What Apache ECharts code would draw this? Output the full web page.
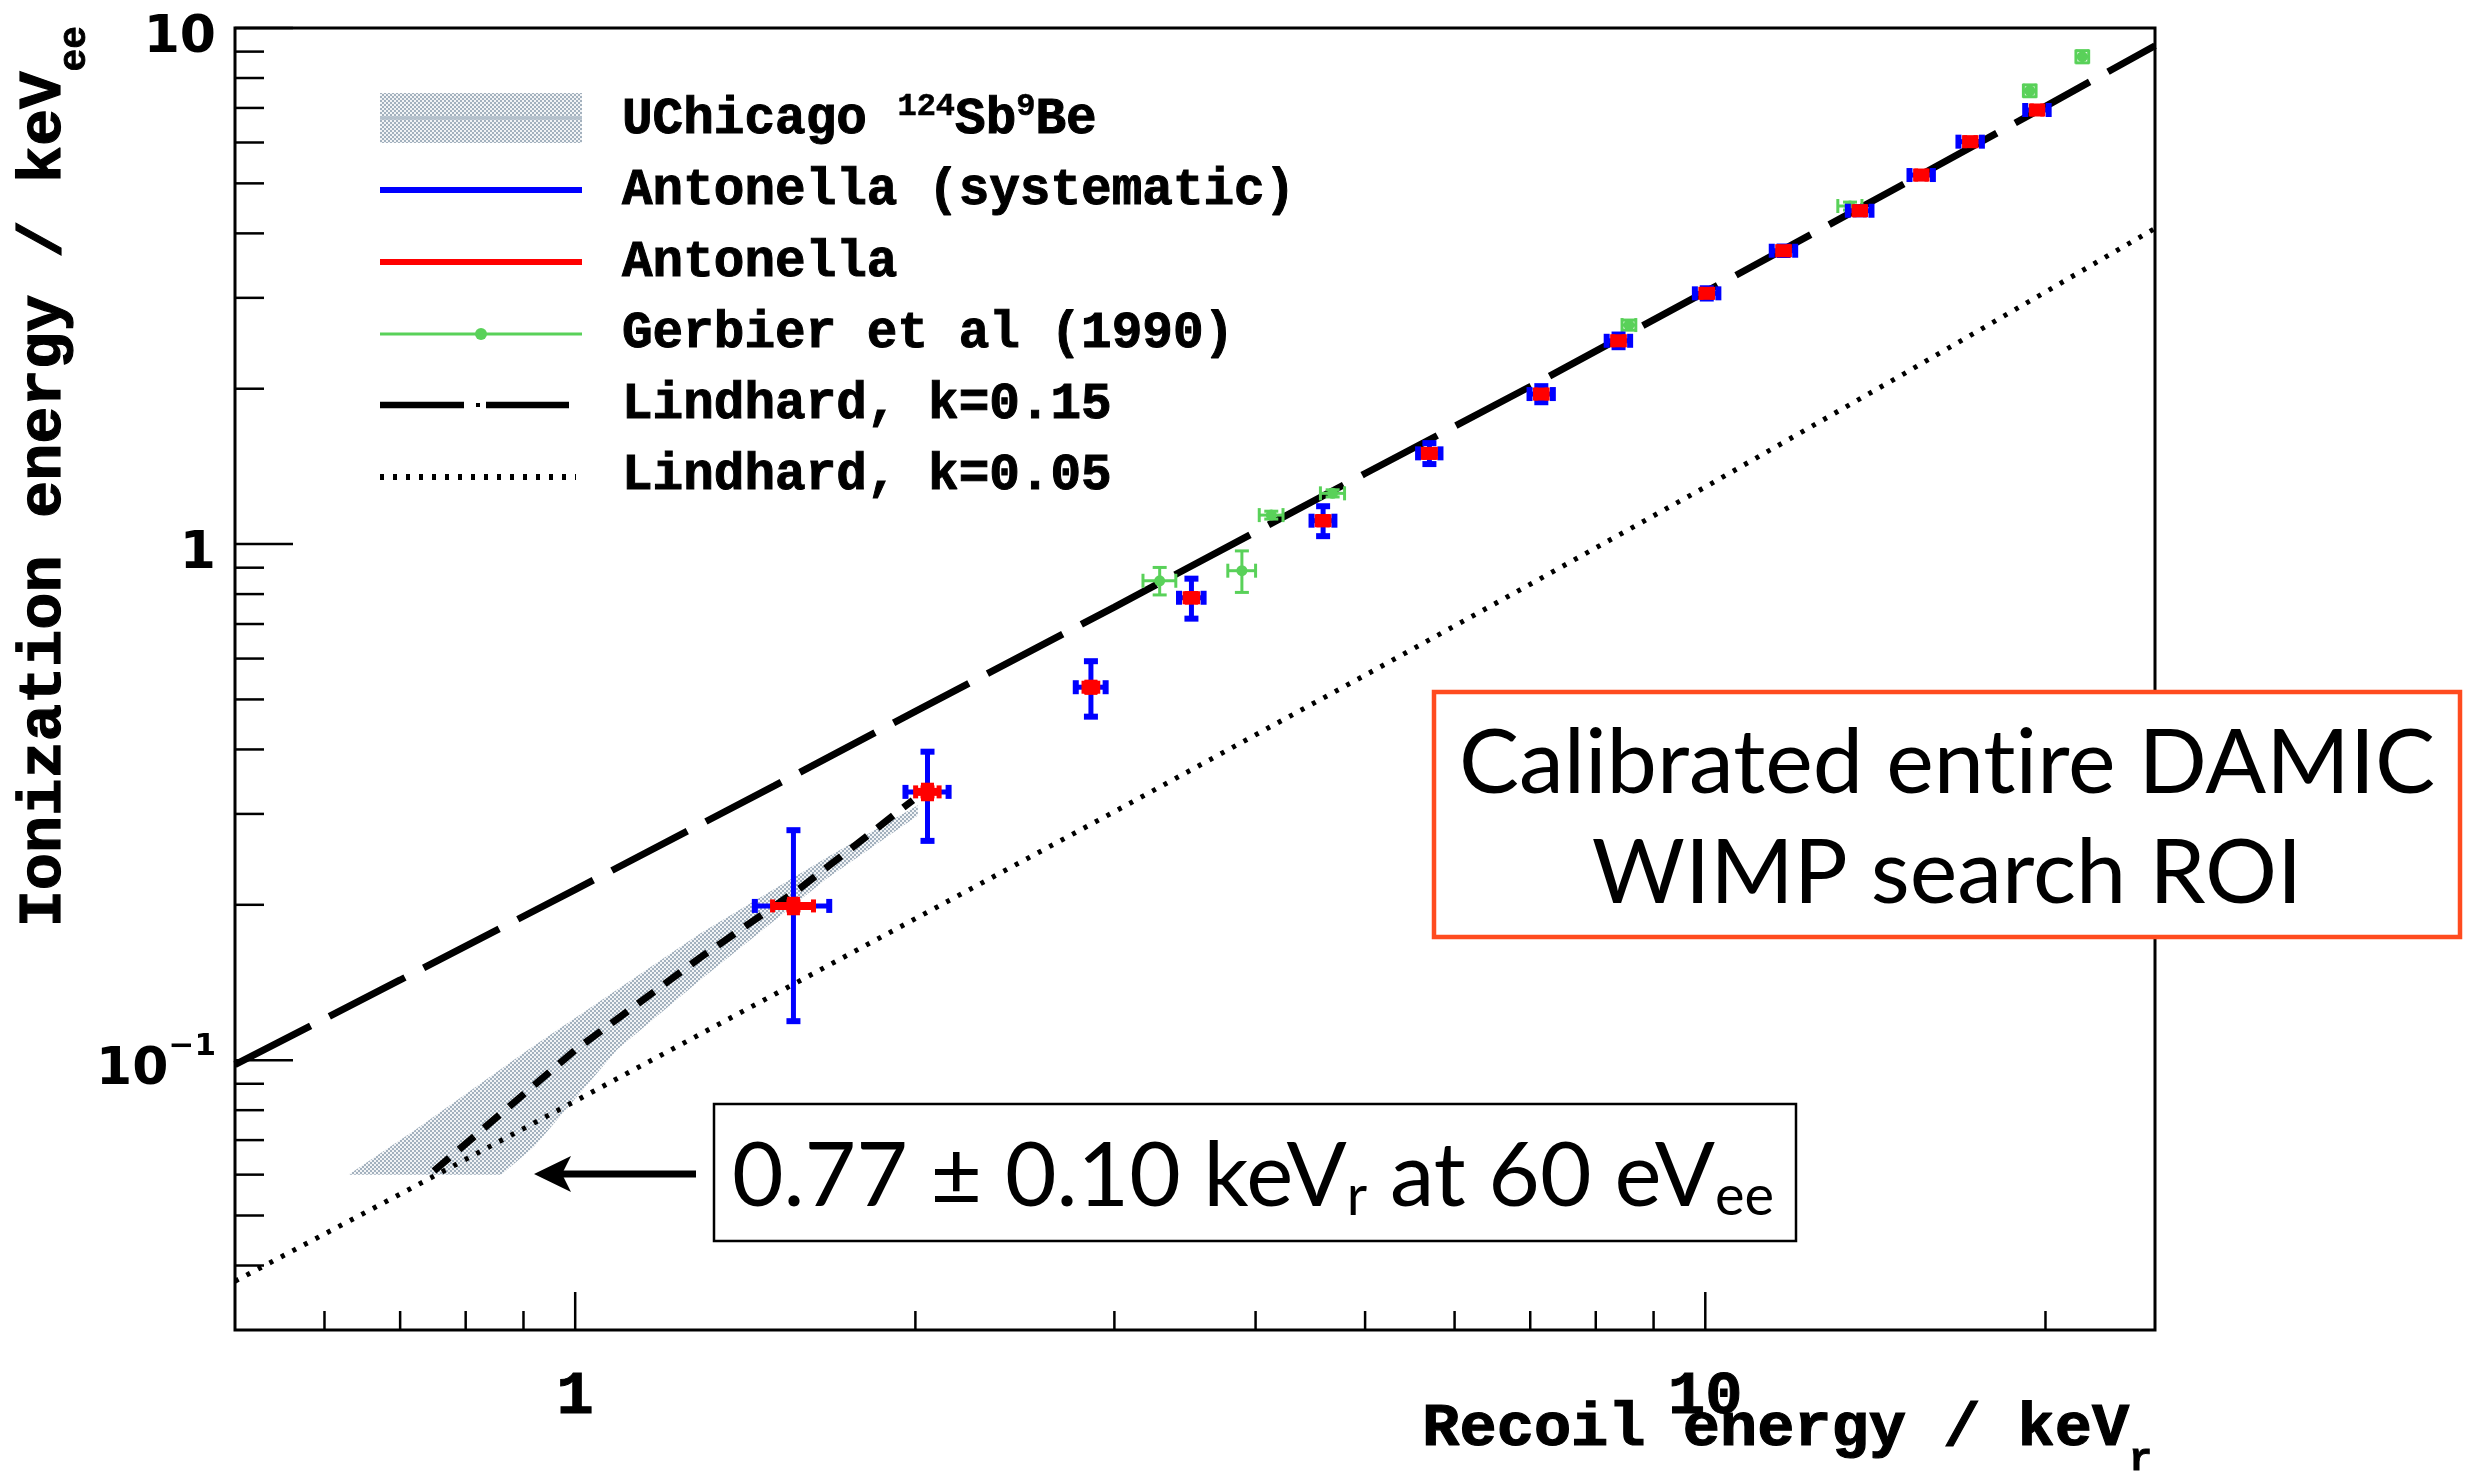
<!DOCTYPE html>
<html>
<head>
<meta charset="utf-8">
<script src="https://cdn.jsdelivr.net/npm/echarts@6/dist/echarts.min.js"></script>
<style>
  html, body { margin: 0; padding: 0; background: #ffffff; }
  #chart { width: 2479px; height: 1471px; }
</style>
</head>
<body>
<div id="chart"></div>
<script>
// ---- Antonella: quenching factor in silicon (recoil keVr -> ionization keVee) ----
const antonellaE     = [1.56, 2.05, 2.86, 3.51, 4.59, 5.70, 7.16, 8.38, 10.03, 11.73, 13.70, 15.53, 17.16, 19.66];
const antonellaQ     = [0.199, 0.331, 0.528, 0.787, 1.110, 1.499, 1.953, 2.477, 3.061, 3.702, 4.425, 5.189, 6.022, 6.936];
const antonellaSysE  = [0.118, 0.090, 0.087, 0.088, 0.107, 0.13, 0.17, 0.20, 0.24, 0.28, 0.33, 0.37, 0.41, 0.47];
const antonellaSysQ  = [0.080, 0.065, 0.065, 0.070, 0.074, 0.07, 0.07, 0.07, 0.07, 0.07, 0.07, 0.07, 0.07, 0.07];
const antonellaStatE = [0.065, 0.049, 0.040, 0.045, 0.055, 0.07, 0.085, 0.10, 0.12, 0.14, 0.16, 0.18, 0.20, 0.23];
const antonellaStatQ = [0.006, 0.010, 0.012, 0.015, 0.020, 0.025, 0.03, 0.035, 0.04, 0.045, 0.05, 0.055, 0.06, 0.065];

// ---- Gerbier et al (1990) ----
const gerbierE    = [3.29, 3.89, 4.13, 4.68, 8.56, 13.43, 19.37, 21.56];
const gerbierQ    = [0.849, 0.888, 1.138, 1.254, 2.657, 4.519, 7.558, 8.800];
const gerbierEErr = [0.11, 0.11, 0.10, 0.115, 0.12, 0.33, 0.25, 0.28];
const gerbierQErr = [0.052, 0.082, 0.02, 0.02, 0.06, 0.08, 0.20, 0.24];

// ---- UChicago 124Sb-9Be photoneutron measurement: central curve and band ----
const uchicagoE  = [0.75, 1.00, 1.29, 1.58, 1.99];
const uchicagoQ  = [0.061, 0.1046, 0.158, 0.215, 0.319];
const bandUpperE = [0.63, 0.72, 0.91, 1.29, 1.67, 2.01];
const bandUpperQ = [0.060, 0.073, 0.105, 0.176, 0.247, 0.312];
const bandLowerE = [0.86, 0.92, 1.09, 1.29, 1.67, 2.01];
const bandLowerQ = [0.060, 0.068, 0.105, 0.143, 0.225, 0.298];

// ---- Lindhard model curves ----
const lindhardE     = [0.5, 0.7, 1, 1.5, 2, 3, 5, 7, 10, 15, 20, 25];
const lindhard015Q  = [0.098, 0.143, 0.214, 0.340, 0.474, 0.755, 1.37, 2.02, 3.08, 4.99, 7.05, 9.24];
const lindhard005Q  = [0.0373, 0.0550, 0.0833, 0.134, 0.188, 0.303, 0.557, 0.836, 1.29, 2.14, 3.08, 4.09];

// ---- Axis ranges, ticks and tick labels ----
const X_MIN = 0.5, X_MAX = 25, Y_MIN = 0.03, Y_MAX = 10;
const xMajorTicks = [1, 10];
const xMinorTicks = [0.6, 0.7, 0.8, 0.9, 2, 3, 4, 5, 6, 7, 8, 9, 20];
const yMajorTicks = [0.1, 1, 10];
const yMinorTicks = [0.04, 0.05, 0.06, 0.07, 0.08, 0.09, 0.2, 0.3, 0.4, 0.5, 0.6, 0.7, 0.8, 0.9,
                     2, 3, 4, 5, 6, 7, 8, 9];
const xTickLabelValues = [1, 10];
const xTickLabelText   = ['1', '10'];
const yTickLabelValues = [0.1, 1, 10];
const yTickLabelMain   = ['10', '1', '10'];
const yTickLabelSup    = ['\u22121', '', ''];

const MONO = '"Liberation Mono", "Courier New", monospace';
const SANS = '"DejaVu Sans", "Open Sans", sans-serif';
const GILL = 'Lato, "Open Sans", sans-serif';

// ---- text helpers: lay out runs of mixed-size text on a common baseline ----
const measureCtx = document.createElement('canvas').getContext('2d');
function fontStr(p) { return (p.weight || 'normal') + ' ' + p.size + 'px ' + p.family; }
function baselineBelowMiddle(font) {
  measureCtx.font = font;
  measureCtx.textBaseline = 'middle';
  return measureCtx.measureText('H').actualBoundingBoxDescent;
}
function runs(parts, x, baseY, align, fill) {
  const widths = parts.map(function (p) {
    measureCtx.font = fontStr(p);
    return measureCtx.measureText(p.text).width;
  });
  const total = widths.reduce(function (a, b) { return a + b; }, 0);
  let cx = align === 'right' ? x - total : (align === 'center' ? x - total / 2 : x);
  return parts.map(function (p, i) {
    const f = fontStr(p);
    const col = p.fill || fill || '#000';
    const style = {
      text: p.text, x: cx, y: baseY + (p.dy || 0) - baselineBelowMiddle(f),
      font: f, fill: col, align: 'left', verticalAlign: 'middle'
    };
    if (p.heavy) { style.stroke = col; style.lineWidth = p.heavy; }
    cx += widths[i];
    return { type: 'text', style: style };
  });
}

// checkered fill for the UChicago band
const checker = document.createElement('canvas');
checker.width = 4; checker.height = 4;
(function () {
  const g = checker.getContext('2d');
  g.fillStyle = '#f2f4f6'; g.fillRect(0, 0, 4, 4);
  g.fillStyle = '#a3b1be'; g.fillRect(0, 0, 2, 2); g.fillRect(2, 2, 2, 2);
})();
const checkerFill = { image: checker, repeat: 'repeat' };

function rect(x, y, w, h, fill) {
  return { type: 'rect', shape: { x: x, y: y, width: w, height: h }, style: { fill: fill } };
}

// ---- series renderers ----
function renderBand(params, api) {
  if (params.dataIndex !== 0) return null;
  const pts = [];
  for (let i = 0; i < bandUpperE.length; i++) pts.push(api.coord([bandUpperE[i], bandUpperQ[i]]));
  for (let i = bandLowerE.length - 1; i >= 0; i--) pts.push(api.coord([bandLowerE[i], bandLowerQ[i]]));
  return { type: 'polygon', shape: { points: pts }, style: { fill: checkerFill } };
}

function renderAntonella(params, api) {
  const i = params.dataIndex;
  const e = antonellaE[i], q = antonellaQ[i];
  const c = api.coord([e, q]);
  const sL = api.coord([e - antonellaSysE[i], q])[0], sR = api.coord([e + antonellaSysE[i], q])[0];
  const sT = api.coord([e, q + antonellaSysQ[i]])[1], sB = api.coord([e, q - antonellaSysQ[i]])[1];
  const tL = api.coord([e - antonellaStatE[i], q])[0], tR = api.coord([e + antonellaStatE[i], q])[0];
  const tT = api.coord([e, q + antonellaStatQ[i]])[1], tB = api.coord([e, q - antonellaStatQ[i]])[1];
  const blue = '#0000ff', red = '#ff0000';
  return {
    type: 'group',
    children: [
      rect(c[0] - 2.5, sT, 5, sB - sT, blue),
      rect(sL, c[1] - 2.5, sR - sL, 5, blue),
      rect(c[0] - 7, sT - 3, 14, 6, blue), rect(c[0] - 7, sB - 3, 14, 6, blue),
      rect(sL - 3, c[1] - 7, 6, 14, blue), rect(sR - 3, c[1] - 7, 6, 14, blue),
      rect(tL, c[1] - 4, tR - tL, 8, red),
      rect(c[0] - 4, tT, 8, tB - tT, red),
      rect(tL - 2.5, c[1] - 6.5, 5, 13, red), rect(tR - 2.5, c[1] - 6.5, 5, 13, red),
      rect(c[0] - 6.5, tT - 2.5, 13, 5, red), rect(c[0] - 6.5, tB - 2.5, 13, 5, red),
      rect(c[0] - 7, c[1] - 6.5, 14, 13, red)
    ]
  };
}

function renderGerbier(params, api) {
  const i = params.dataIndex;
  const e = gerbierE[i], q = gerbierQ[i];
  const c = api.coord([e, q]);
  const l = api.coord([e - gerbierEErr[i], q])[0], r = api.coord([e + gerbierEErr[i], q])[0];
  const t = api.coord([e, q + gerbierQErr[i]])[1], b = api.coord([e, q - gerbierQErr[i]])[1];
  const green = '#59d159';
  return {
    type: 'group',
    children: [
      rect(l, c[1] - 1.5, r - l, 3, green),
      rect(c[0] - 1.5, t, 3, b - t, green),
      rect(c[0] - 7, t - 1.5, 14, 3, green), rect(c[0] - 7, b - 1.5, 14, 3, green),
      rect(l - 1.5, c[1] - 7, 3, 14, green), rect(r - 1.5, c[1] - 7, 3, 14, green),
      { type: 'circle', shape: { cx: c[0], cy: c[1], r: 5.5 }, style: { fill: green } }
    ]
  };
}

function renderXTick(params, api) {
  const c = api.coord([api.value(0), Y_MIN]);
  const len = api.value(2) ? 38 : 19;
  return { type: 'line', shape: { x1: c[0], y1: c[1], x2: c[0], y2: c[1] - len },
           style: { stroke: '#000', lineWidth: 2.5 } };
}
function renderYTick(params, api) {
  const c = api.coord([X_MIN, api.value(1)]);
  const len = api.value(2) ? 58 : 29;
  return { type: 'line', shape: { x1: c[0], y1: c[1], x2: c[0] + len, y2: c[1] },
           style: { stroke: '#000', lineWidth: 2.5 } };
}
function renderXLabel(params, api) {
  const i = params.dataIndex;
  const c = api.coord([xTickLabelValues[i], Y_MIN]);
  return { type: 'group', children: runs([{ text: xTickLabelText[i], size: 62, family: MONO, weight: 'bold', heavy: 1 }],
                                          c[0], c[1] + 83, 'center') };
}
function renderYLabel(params, api) {
  const i = params.dataIndex;
  const c = api.coord([X_MIN, yTickLabelValues[i]]);
  const parts = [{ text: yTickLabelMain[i], size: 52, family: SANS, weight: 'bold' }];
  if (yTickLabelSup[i]) parts.push({ text: yTickLabelSup[i], size: 31, family: SANS, weight: 'bold', dy: -29 });
  return { type: 'group', children: runs(parts, c[0] - 19, c[1] + 24, 'right') };
}

// ---- legend (pixel layout, upper left of the frame) ----
function legendGraphics() {
  const x0 = 380, x1 = 582, tx = 622;
  const lineY = [118, 190, 262, 334, 405, 477];
  const baseY = [133, 204, 276, 347, 418, 489];
  const L = function (t) { return { text: t, size: 51, family: MONO, weight: 'bold', heavy: 1 }; };
  const S = function (t) { return { text: t, size: 32, family: MONO, weight: 'bold', dy: -18, heavy: 0.6 }; };
  const els = [];
  els.push({ type: 'rect', shape: { x: x0, y: lineY[0] - 25, width: x1 - x0, height: 50 }, style: { fill: checkerFill } });
  els.push({ type: 'line', shape: { x1: x0, y1: lineY[0], x2: x1, y2: lineY[0] }, style: { stroke: '#b4c0cb', lineWidth: 3.5 } });
  els.push({ type: 'line', shape: { x1: x0, y1: lineY[1], x2: x1, y2: lineY[1] }, style: { stroke: '#0000ff', lineWidth: 6 } });
  els.push({ type: 'line', shape: { x1: x0, y1: lineY[2], x2: x1, y2: lineY[2] }, style: { stroke: '#ff0000', lineWidth: 6 } });
  els.push({ type: 'line', shape: { x1: x0, y1: lineY[3], x2: x1, y2: lineY[3] }, style: { stroke: '#59d159', lineWidth: 3 } });
  els.push({ type: 'circle', shape: { cx: (x0 + x1) / 2, cy: lineY[3], r: 6 }, style: { fill: '#59d159' } });
  els.push({ type: 'line', shape: { x1: x0, y1: lineY[4], x2: 464, y2: lineY[4] }, style: { stroke: '#000', lineWidth: 6.5 } });
  els.push({ type: 'rect', shape: { x: 476, y: lineY[4] - 2, width: 4, height: 4 }, style: { fill: '#000' } });
  els.push({ type: 'line', shape: { x1: 486, y1: lineY[4], x2: 569, y2: lineY[4] }, style: { stroke: '#000', lineWidth: 6.5 } });
  els.push({ type: 'line', shape: { x1: x0, y1: lineY[5], x2: 576, y2: lineY[5] },
             style: { stroke: '#000', lineWidth: 6, lineDash: [4, 9] } });
  const texts = [
    [L('UChicago '), S('124'), L('Sb'), S('9'), L('Be')],
    [L('Antonella (systematic)')],
    [L('Antonella')],
    [L('Gerbier et al (1990)')],
    [L('Lindhard, k=0.15')],
    [L('Lindhard, k=0.05')]
  ];
  texts.forEach(function (parts, i) { runs(parts, tx, baseY[i], 'left').forEach(function (e) { els.push(e); }); });
  return { type: 'group', z: 50, children: els };
}

function axisTitleGraphics() {
  const xTitle = runs([
    { text: 'Recoil energy / keV', size: 62, family: MONO, weight: 'bold', heavy: 1.2 },
    { text: 'r', size: 38, family: MONO, weight: 'bold', dy: 25, heavy: 0.8 }
  ], 2152, 1445, 'right');
  const yTitle = runs([
    { text: 'Ionization energy / keV', size: 62, family: MONO, weight: 'bold', heavy: 1.2 },
    { text: 'ee', size: 38, family: MONO, weight: 'bold', dy: 25, heavy: 0.8 }
  ], 0, 0, 'right');
  return [
    { type: 'group', z: 50, children: xTitle },
    { type: 'group', z: 50, x: 60, y: 26, rotation: Math.PI / 2, children: yTitle }
  ];
}

function annotationGraphics() {
  const G = function (t, size, dy) { return { text: t, size: size, family: GILL, weight: 'normal', dy: dy || 0 }; };
  // a zero-width non-joiner keeps "t" and "i" as separate glyphs
  const roi = [
    { type: 'rect', shape: { x: 1434, y: 692, width: 1026, height: 245 },
      style: { fill: '#ffffff', stroke: '#ff4b1f', lineWidth: 4.5 } }
  ].concat(runs([G('Calibrated ent\u200Cire DAMIC', 90)], 1947, 793, 'center'))
   .concat(runs([G('WIMP search ROI', 90)], 1947, 903, 'center'));
  const note = [
    { type: 'rect', shape: { x: 714, y: 1104, width: 1082, height: 137 },
      style: { fill: '#ffffff', stroke: '#000', lineWidth: 2.5 } }
  ].concat(runs([G('0.77 \u00b1 0.10 keV', 89), G('r', 56, 9), G(' at 60 eV', 89), G('ee', 56, 9)],
                1253, 1206, 'center'));
  const arrow = [
    { type: 'rect', shape: { x: 558, y: 1170.5, width: 138, height: 7 }, style: { fill: '#000' } },
    { type: 'polygon', shape: { points: [[534, 1174], [571, 1156], [562, 1174], [571, 1192]] }, style: { fill: '#000' } }
  ];
  return [
    { type: 'group', z: 60, children: roi },
    { type: 'group', z: 60, children: note },
    { type: 'group', z: 60, children: arrow }
  ];
}

const chart = echarts.init(document.getElementById('chart'), null, { renderer: 'canvas' });

const pairs = function (xs, ys) { return xs.map(function (x, i) { return [x, ys[i]]; }); };

chart.setOption({
  animation: false,
  backgroundColor: '#ffffff',
  grid: {
    left: 235, top: 28, width: 1920, height: 1302,
    show: true, borderColor: '#000', borderWidth: 3, backgroundColor: 'transparent'
  },
  xAxis: {
    type: 'log', logBase: 10, min: X_MIN, max: X_MAX,
    axisLine: { show: false }, axisTick: { show: false }, axisLabel: { show: false },
    splitLine: { show: false }, minorTick: { show: false }, minorSplitLine: { show: false }
  },
  yAxis: {
    type: 'log', logBase: 10, min: Y_MIN, max: Y_MAX,
    axisLine: { show: false }, axisTick: { show: false }, axisLabel: { show: false },
    splitLine: { show: false }, minorTick: { show: false }, minorSplitLine: { show: false }
  },
  series: [
    { name: 'UChicago band', type: 'custom', renderItem: renderBand, z: 1,
      data: pairs(bandUpperE, bandUpperQ), silent: true },
    { name: 'UChicago 124Sb9Be', type: 'line', data: pairs(uchicagoE, uchicagoQ), showSymbol: false, z: 2,
      lineStyle: { color: '#000', width: 7, type: [20, 13], cap: 'butt' }, silent: true },
    { name: 'Lindhard, k=0.15', type: 'line', data: pairs(lindhardE, lindhard015Q), showSymbol: false, z: 2,
      lineStyle: { color: '#000', width: 7, type: [85, 21], cap: 'butt' }, silent: true },
    { name: 'Lindhard, k=0.05', type: 'line', data: pairs(lindhardE, lindhard005Q), showSymbol: false, z: 2,
      lineStyle: { color: '#000', width: 5, type: [4, 9], cap: 'butt' }, silent: true },
    { name: 'Gerbier et al (1990)', type: 'custom', renderItem: renderGerbier, z: 3,
      data: pairs(gerbierE, gerbierQ), silent: true },
    { name: 'Antonella', type: 'custom', renderItem: renderAntonella, z: 4,
      data: pairs(antonellaE, antonellaQ), silent: true },
    { name: 'x ticks', type: 'custom', renderItem: renderXTick, z: 5, silent: true,
      data: xMajorTicks.map(function (v) { return [v, Y_MIN, 1]; })
              .concat(xMinorTicks.map(function (v) { return [v, Y_MIN, 0]; })) },
    { name: 'y ticks', type: 'custom', renderItem: renderYTick, z: 5, silent: true,
      data: yMajorTicks.map(function (v) { return [X_MIN, v, 1]; })
              .concat(yMinorTicks.map(function (v) { return [X_MIN, v, 0]; })) },
    { name: 'x labels', type: 'custom', renderItem: renderXLabel, z: 5, silent: true, clip: false,
      data: xTickLabelValues.map(function (v) { return [v, Y_MIN]; }) },
    { name: 'y labels', type: 'custom', renderItem: renderYLabel, z: 5, silent: true, clip: false,
      data: yTickLabelValues.map(function (v) { return [X_MIN, v]; }) }
  ],
  graphic: [legendGraphics()].concat(axisTitleGraphics()).concat(annotationGraphics())
});
</script>
</body>
</html>
